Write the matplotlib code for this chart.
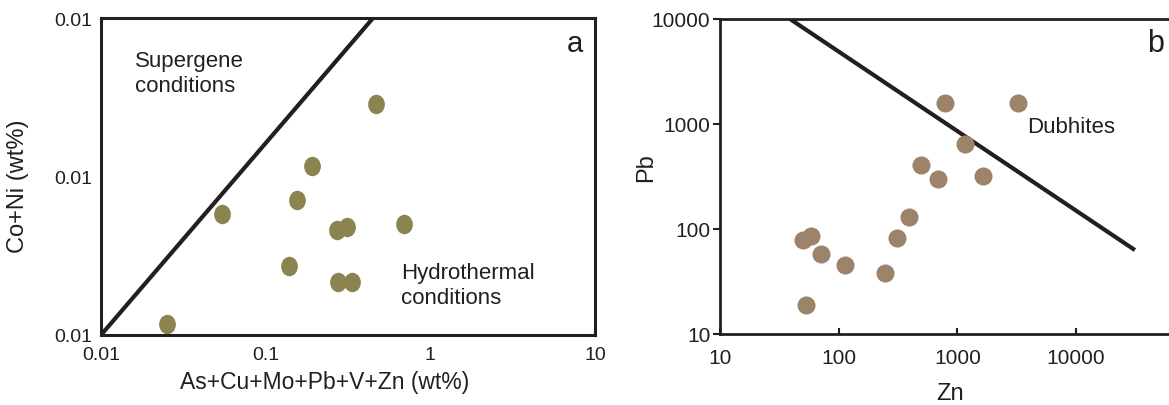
import matplotlib.pyplot as plt
from matplotlib.path import Path
from matplotlib.transforms import Affine2D

# ============================================================
# Podatki
# ============================================================

# panel a: vsota As+Cu+Mo+Pb+V+Zn proti Co+Ni (wt%)
a_sum = [0.0253, 0.0543, 0.156, 0.192, 0.470, 0.139, 0.271, 0.313, 0.689, 0.275, 0.334]
a_coni = [0.00117, 0.00579, 0.00708, 0.0116, 0.0286, 0.00274, 0.00459, 0.00482, 0.00501, 0.00216, 0.00216]
a_line_x = [0.01, 0.449]
a_line_y = [0.001, 0.1]
a_xticks = [0.01, 0.1, 1, 10]
a_xlabels = ["0.01", "0.1", "1", "10"]
a_yticks = [0.001, 0.01, 0.1]
a_ylabels = ["0.01", "0.01", "0.01"]   # tako je v originalu

# panel b: Zn proti Pb
b_zn = [50.0, 58.4, 70.9, 113, 245, 53.0, 310, 391, 493, 687, 786, 1159, 1643, 3240]
b_pb = [78.6, 85.8, 57.8, 45.4, 38.1, 18.9, 82.1, 130, 407, 299, 1585, 645, 320, 1585]
b_line_x = [38.9, 31300]
b_line_y = [10000, 63]
b_xticks = [10, 100, 1000, 10000]
b_yticks = [10, 100, 1000, 10000]

col_a = "#8b8350"
col_b = "#9c836a"
ink = "#231f20"

plt.rcParams["font.family"] = ["Liberation Sans", "DejaVu Sans"]

W, H = 1169, 406
fig = plt.figure(figsize=(W / 100, H / 100), dpi=100)

# eliptičen marker (malo višji kot širši)
ellipse = Path.unit_circle().transformed(Affine2D().scale(0.86, 1.0))

# ============================================================
# Panel a
# ============================================================
a_w, a_h = 494, 317
ax1 = fig.add_axes([101 / W, 1 - 336 / H, a_w / W, a_h / H])
ax1.set_xscale("log")
ax1.set_yscale("log")
ax1.set_xlim(0.01, 10)
ax1.set_ylim(0.001, 0.1)
ax1.plot(a_line_x, a_line_y, color=ink, lw=3, solid_capstyle="butt")
ax1.plot(a_sum, a_coni, ls="none", marker=ellipse, ms=14, color=col_a, mec="none")

ax1.set_xticks(a_xticks)
ax1.set_xticklabels(a_xlabels)
ax1.set_yticks(a_yticks)
ax1.set_yticklabels(a_ylabels)
ax1.minorticks_off()
ax1.tick_params(length=0, labelsize=14, colors=ink, pad=8)
ax1.tick_params(axis="y", pad=6)
for sp in ax1.spines.values():
    sp.set_linewidth(2.2)
    sp.set_color(ink)

ax1.set_xlabel("As+Cu+Mo+Pb+V+Zn (wt%)", fontsize=16.5, color=ink)
ax1.set_ylabel("Co+Ni (wt%)", fontsize=17, color=ink)
ax1.xaxis.set_label_coords((325 - 101) / a_w, -0.11)
ax1.yaxis.set_label_coords((29 - 101) / a_w, 0.473)

ax1.text(0.069, 0.826, "Supergene\nconditions", transform=ax1.transAxes,
         fontsize=16, color=ink, va="center", ha="left", linespacing=1.25)
ax1.text(0.607, 0.158, "Hydrothermal\nconditions", transform=ax1.transAxes,
         fontsize=16, color=ink, va="center", ha="left", linespacing=1.25)
ax1.text(0.975, 0.92, "a", transform=ax1.transAxes,
         fontsize=21, color=ink, va="center", ha="right")

# ============================================================
# Panel b  (desni rob je v originalu odrezan)
# ============================================================
b_w, b_h = 474.8, 315
ax2 = fig.add_axes([720 / W, 1 - 335 / H, b_w / W, b_h / H])
ax2.set_xscale("log")
ax2.set_yscale("log")
ax2.set_xlim(10, 100000)
ax2.set_ylim(10, 10000)
ax2.plot(b_line_x, b_line_y, color=ink, lw=3, solid_capstyle="butt")
ax2.plot(b_zn, b_pb, ls="none", marker="o", ms=13, color=col_b, mec="none")

ax2.set_xticks(b_xticks)
ax2.set_xticklabels([str(v) for v in b_xticks])
ax2.set_yticks(b_yticks)
ax2.set_yticklabels([str(v) for v in b_yticks])
ax2.minorticks_off()
ax2.tick_params(axis="x", direction="in", length=4, width=1.5, labelsize=15,
                colors=ink, pad=10)
ax2.tick_params(axis="y", direction="out", length=5, width=1.5, labelsize=15,
                colors=ink, pad=2)
for sp in ax2.spines.values():
    sp.set_linewidth(2)
    sp.set_color(ink)

ax2.set_xlabel("Zn", fontsize=17, color=ink)
ax2.set_ylabel("Pb", fontsize=17, color=ink)
ax2.xaxis.set_label_coords((950 - 720) / b_w, -0.152)
ax2.yaxis.set_label_coords((657 - 720) / b_w, 0.53)

ax2.text((1027 - 720) / b_w, 0.66, "Dubhites", transform=ax2.transAxes,
         fontsize=16, color=ink, va="center", ha="left")
ax2.text((1164 - 720) / b_w, 0.925, "b", transform=ax2.transAxes,
         fontsize=22, color=ink, va="center", ha="right")

fig.savefig("out.png", dpi=100)
